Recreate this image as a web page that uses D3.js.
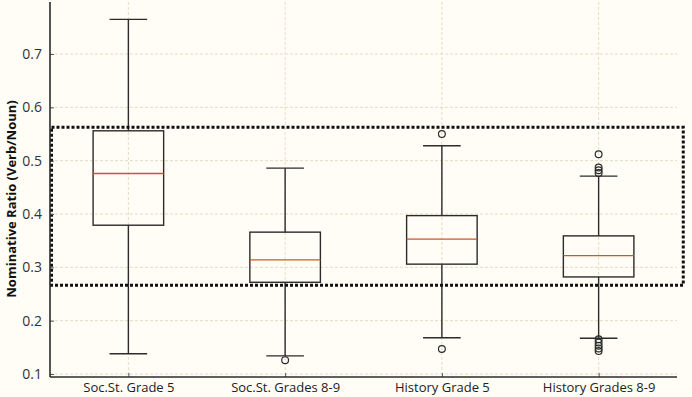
<!DOCTYPE html>
<html>
<head>
<meta charset="utf-8">
<script src="https://cdn.jsdelivr.net/npm/d3@7"></script>
<style>
  html, body { margin: 0; padding: 0; background: #fffdf6; }
  svg { display: block; }
</style>
</head>
<body>
<svg id="chart" width="692" height="397"></svg>
<script>
// ---- Data ----
const categories = ["Soc.St. Grade 5", "Soc.St. Grades 8-9", "History Grade 5", "History Grades 8-9"];
const whiskerLow  = [0.138, 0.134, 0.168, 0.167];
const q1          = [0.379, 0.272, 0.306, 0.282];
const median      = [0.476, 0.314, 0.353, 0.322];
const q3          = [0.556, 0.366, 0.397, 0.359];
const whiskerHigh = [0.765, 0.486, 0.528, 0.471];
const outliers    = [
  [],
  [0.126],
  [0.147, 0.550],
  [0.512, 0.487, 0.482, 0.477, 0.165, 0.159, 0.153, 0.148, 0.143]
];
const yTicks = [0.1, 0.2, 0.3, 0.4, 0.5, 0.6, 0.7];
const highlightRange = { xMin: 0.5, xMax: 4.54, yMin: 0.2663, yMax: 0.5625 };
const yLabel = "Nominative Ratio (Verb/Noun)";

// ---- Layout ----
const svg = d3.select("#chart");
const pL = 50, pR = 677, pT = 2, pB = 377;
const x = d3.scaleLinear().domain([0.5, 4.5]).range([pL, pR]);
const y = d3.scaleLinear().domain([0.0944, 0.7975]).range([pB, pT]);
const boxW = 0.45, capW = 0.24;
const ink = "#2b2b2b";

svg.append("rect").attr("width", 692).attr("height", 397).attr("fill", "#fffdf6");

// grid
const grid = svg.append("g");
grid.selectAll("line.gy").data(yTicks).join("line")
  .attr("x1", pL).attr("x2", pR)
  .attr("y1", d => y(d)).attr("y2", d => y(d))
  .attr("stroke", "#e3dcc6").attr("stroke-width", 1).attr("stroke-dasharray", "3,2");
grid.selectAll("line.gx").data(categories).join("line")
  .attr("x1", (d, i) => x(i + 1)).attr("x2", (d, i) => x(i + 1))
  .attr("y1", pT).attr("y2", pB)
  .attr("stroke", "#e3dcc6").attr("stroke-width", 1).attr("stroke-dasharray", "3,2");

// boxes
const g = svg.append("g");
categories.forEach((c, i) => {
  const cx = x(i + 1);
  const bx0 = x(i + 1 - boxW / 2), bx1 = x(i + 1 + boxW / 2);
  const cx0 = x(i + 1 - capW / 2), cx1 = x(i + 1 + capW / 2);
  g.append("line").attr("x1", cx).attr("x2", cx).attr("y1", y(q3[i])).attr("y2", y(whiskerHigh[i]))
    .attr("stroke", ink).attr("stroke-width", 1.4);
  g.append("line").attr("x1", cx).attr("x2", cx).attr("y1", y(q1[i])).attr("y2", y(whiskerLow[i]))
    .attr("stroke", ink).attr("stroke-width", 1.4);
  [whiskerHigh[i], whiskerLow[i]].forEach(v => {
    g.append("line").attr("x1", cx0).attr("x2", cx1).attr("y1", y(v)).attr("y2", y(v))
      .attr("stroke", ink).attr("stroke-width", 1.4);
  });
  g.append("rect").attr("x", bx0).attr("y", y(q3[i]))
    .attr("width", bx1 - bx0).attr("height", y(q1[i]) - y(q3[i]))
    .attr("fill", "none").attr("stroke", ink).attr("stroke-width", 1.4);
  g.append("line").attr("x1", bx0).attr("x2", bx1).attr("y1", y(median[i])).attr("y2", y(median[i]))
    .attr("stroke", "#d0552e").attr("stroke-width", 1.4);
  g.selectAll(null).data(outliers[i]).join("circle")
    .attr("cx", cx).attr("cy", d => y(d)).attr("r", 3.4)
    .attr("fill", "none").attr("stroke", ink).attr("stroke-width", 1.2);
});

// highlight rectangle
svg.append("rect")
  .attr("x", x(highlightRange.xMin) + 1.5).attr("y", y(highlightRange.yMax))
  .attr("width", x(highlightRange.xMax) - x(highlightRange.xMin) - 1.5)
  .attr("height", y(highlightRange.yMin) - y(highlightRange.yMax))
  .attr("fill", "none").attr("stroke", "#111").attr("stroke-width", 3)
  .attr("stroke-dasharray", "3,2");

// axes
const yAxis = d3.axisLeft(y).tickValues(yTicks).tickFormat(d3.format(".1f")).tickSizeInner(-4).tickSizeOuter(0).tickPadding(8);
const ya = svg.append("g").attr("transform", `translate(${pL},0)`).call(yAxis);
ya.select(".domain").remove();
ya.selectAll(".tick line").attr("stroke", "#555").attr("stroke-width", 1);
ya.selectAll(".tick text").attr("font-family", "'Open Sans'").attr("font-size", 14).attr("fill", "#333");

const xAxis = d3.axisBottom(x).tickValues(categories.map((c, i) => i + 1))
  .tickFormat((d) => categories[d - 1]).tickSizeInner(-4).tickSizeOuter(0).tickPadding(6);
const xa = svg.append("g").attr("transform", `translate(0,${pB})`).call(xAxis);
xa.select(".domain").remove();
xa.selectAll(".tick line").attr("stroke", "#555").attr("stroke-width", 1);
xa.selectAll(".tick text").attr("font-family", "'Open Sans'").attr("font-size", 13).attr("fill", "#222");

// spines
svg.append("line").attr("x1", pL).attr("x2", pL).attr("y1", pT).attr("y2", pB)
  .attr("stroke", ink).attr("stroke-width", 1.6);
svg.append("line").attr("x1", pL).attr("x2", pR).attr("y1", pB).attr("y2", pB)
  .attr("stroke", ink).attr("stroke-width", 1.6);

// y label
svg.append("text")
  .attr("transform", `translate(16,199) rotate(-90)`)
  .attr("text-anchor", "middle")
  .attr("font-family", "'Open Sans'").attr("font-weight", "bold").attr("font-size", 13)
  .attr("fill", "#111")
  .text(yLabel);
</script>
</body>
</html>
